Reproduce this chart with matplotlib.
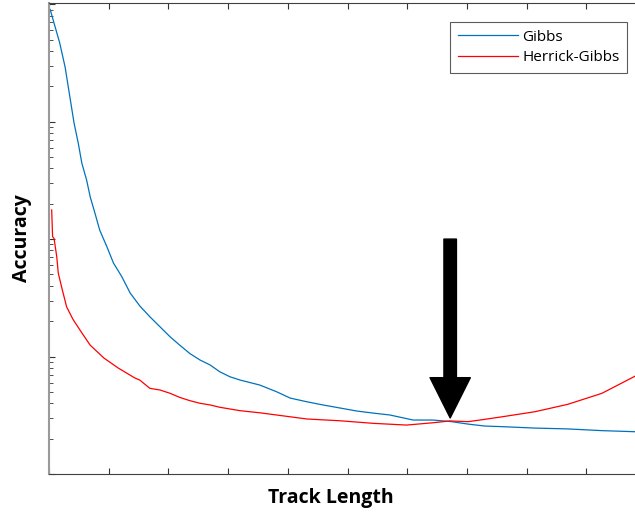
import matplotlib.pyplot as plt

# Track length (x) and accuracy (log y)
gibbs_x = [0.2, 0.8, 1.8, 2.7, 3.5, 4.2, 4.9, 5.5, 6.3, 6.9, 7.7, 8.5, 9.7, 10.8,
           12.2, 13.6, 15.2, 16.9, 18.6, 20.3, 21.9, 23.6, 25.3, 27.0, 28.6, 30.3,
           32.0, 35.3, 38.1, 40.4, 43.2, 45.9, 48.7, 51.5, 54.3, 57.1, 61.0, 64.3,
           67.2, 70.2, 73.0, 75.9, 81.4, 86.9, 92.6, 98.2]
gibbs_y = [9000, 7030, 4660, 2910, 1620, 971, 656, 443, 318, 229, 166, 119, 86,
           62.5, 47.8, 34.7, 27.0, 21.8, 17.9, 14.7, 12.5, 10.6, 9.34, 8.47, 7.42,
           6.73, 6.31, 5.72, 5.02, 4.43, 4.12, 3.87, 3.65, 3.44, 3.30, 3.18, 2.88,
           2.88, 2.80, 2.66, 2.56, 2.53, 2.46, 2.42, 2.34, 2.29]

herrick_x = [0.45, 0.6, 0.85, 1.3, 1.55, 2.1, 2.95, 4.0, 5.5, 6.9, 9.2, 11.6, 14.4,
             15.2, 16.9, 18.6, 20.3, 21.9, 23.6, 25.3, 27.0, 28.6, 32.0, 35.3, 38.1,
             43.2, 48.7, 54.3, 59.9, 64.3, 67.2, 70.2, 73.0, 75.9, 81.4, 86.9, 92.6,
             98.2]
herrick_y = [177, 105, 101, 70.7, 51.4, 39.3, 26.5, 20.8, 15.9, 12.5, 9.71, 7.98,
             6.56, 6.31, 5.36, 5.19, 4.86, 4.49, 4.21, 4.00, 3.87, 3.70, 3.46, 3.32,
             3.18, 2.94, 2.84, 2.70, 2.61, 2.73, 2.83, 2.79, 2.92, 3.07, 3.39, 3.92,
             4.86, 6.82]

# arrow marking the crossover
arrow_x = 67.2
arrow_tip, arrow_tail = 3.0, 100

fig = plt.figure(figsize=(6.35, 5.16), dpi=100)
# axes run a little past the right edge, as in the cropped original
ax = fig.add_axes([49 / 635, 42 / 516, 597 / 635, 471 / 516])

ax.plot(gibbs_x, gibbs_y, color="#0072BD", linewidth=0.9, label="Gibbs")
ax.plot(herrick_x, herrick_y, color="#FF0000", linewidth=0.9, label="Herrick-Gibbs")

ax.set_yscale("log")
ax.set_xlim(0, 100)
ax.set_ylim(1, 10 ** 4.01)
ax.set_xticks(range(0, 101, 10))

ax.tick_params(which="both", direction="in", top=True, right=True,
               labelbottom=False, labelleft=False, color="#333333")
ax.tick_params(which="major", length=4)
ax.tick_params(which="minor", length=3)
for side in ["top", "bottom", "right"]:
    ax.spines[side].set_color("#404040")
    ax.spines[side].set_linewidth(0.8)
ax.spines["left"].set_color("#9a9a9a")
ax.spines["left"].set_linewidth(1.5)

ax.annotate("", xy=(arrow_x, arrow_tip), xytext=(arrow_x, arrow_tail),
            arrowprops=dict(facecolor="black", edgecolor="black", width=9,
                            headwidth=29, headlength=29, shrink=0))

leg = ax.legend(loc="upper right", bbox_to_anchor=(627 / 635, 1 - 22 / 516),
                bbox_transform=fig.transFigure, borderaxespad=0, fancybox=False,
                handlelength=3.9, handletextpad=0.3, labelspacing=0.35,
                borderpad=0.5, prop={"family": "Open Sans", "size": 11})
leg.get_frame().set_edgecolor("#333333")
leg.get_frame().set_linewidth(0.8)

fig.text(331 / 635, 1 - 498 / 516, "Track Length", ha="center", va="center",
         fontsize=14, fontweight="bold", family="Open Sans")
fig.text(22 / 635, 1 - 238 / 516, "Accuracy", ha="center", va="center",
         rotation=90, fontsize=14, fontweight="bold", family="Open Sans")

fig.savefig("out.png", dpi=100)
